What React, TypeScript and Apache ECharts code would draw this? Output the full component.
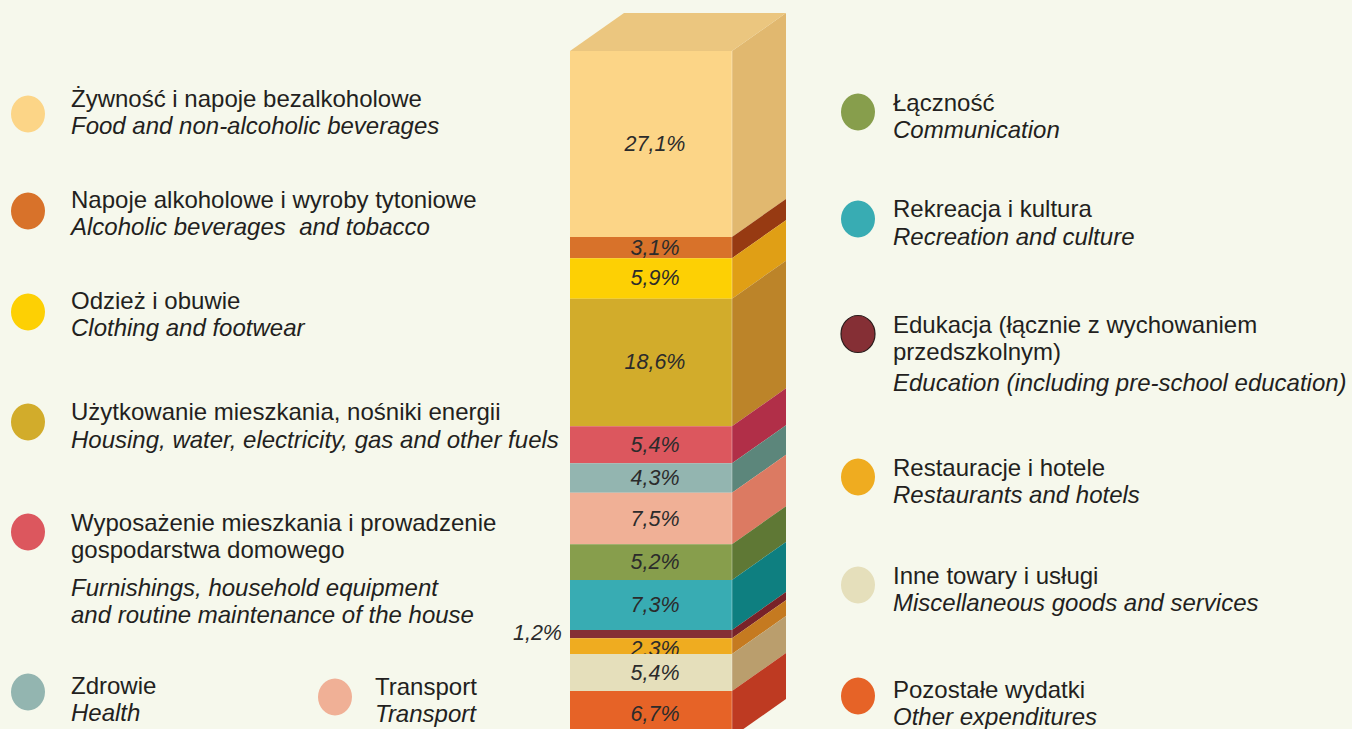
import React, { useEffect, useRef } from "react";
import * as echarts from "echarts";

// ---- Data ----
const categoriesPL: string[][] = [
  ["Żywność i napoje bezalkoholowe"],
  ["Napoje alkoholowe i wyroby tytoniowe"],
  ["Odzież i obuwie"],
  ["Użytkowanie mieszkania, nośniki energii"],
  ["Wyposażenie mieszkania i prowadzenie", "gospodarstwa domowego"],
  ["Zdrowie"],
  ["Transport"],
  ["Łączność"],
  ["Rekreacja i kultura"],
  ["Edukacja (łącznie z wychowaniem", "przedszkolnym)"],
  ["Restauracje i hotele"],
  ["Inne towary i usługi"],
  ["Pozostałe wydatki"],
];
const categoriesEN: string[][] = [
  ["Food and non-alcoholic beverages"],
  ["Alcoholic beverages  and tobacco"],
  ["Clothing and footwear"],
  ["Housing, water, electricity, gas and other fuels"],
  ["Furnishings, household equipment", "and routine maintenance of the house"],
  ["Health"],
  ["Transport"],
  ["Communication"],
  ["Recreation and culture"],
  ["Education (including pre-school education)"],
  ["Restaurants and hotels"],
  ["Miscellaneous goods and services"],
  ["Other expenditures"],
];
const values: number[] = [27.1, 3.1, 5.9, 18.6, 5.4, 4.3, 7.5, 5.2, 7.3, 1.2, 2.3, 5.4, 6.7];

// ---- Styles ----
const frontColors = [
  "#FCD587", "#D8722A", "#FDD004", "#D2AC2B", "#DC575E", "#93B5B0", "#F0B096",
  "#879E4C", "#38ACB3", "#852F35", "#EFAC20", "#E5DFBB", "#E66327",
];
const sideColors = [
  "#E1B86F", "#973A12", "#E09F15", "#BC8429", "#B12F48", "#5C867B", "#DC7A62",
  "#5F7835", "#0E7F80", "#782229", "#C57A20", "#BA9E6D", "#BE3A22",
];
const legendCircleColors = [
  "#FCD587", "#D8722A", "#FDD004", "#D2AC2B", "#DC575E", "#93B5B0", "#F0B096",
  "#879E4C", "#38ACB3", "#852F35", "#EFAC20", "#E5DFBB", "#E66327",
];
const TOP_COLOR = "#EBC67F";
const BG = "#F6F8EC";
const DX = 54;
const DY = -38;
const FONT = "Liberation Sans";
const TEXT_COLOR = "#231F20";

// legend layout (circle centre, text x, text line centres)
const legendLayout = [
  { cx: 28, cy: 114, tx: 71, ys: [98, 125] },
  { cx: 28, cy: 211, tx: 71, ys: [199, 226] },
  { cx: 28, cy: 312, tx: 71, ys: [300, 327] },
  { cx: 28, cy: 422, tx: 71, ys: [411, 439] },
  { cx: 28, cy: 532, tx: 71, ys: [522, 549, 587, 614] },
  { cx: 28, cy: 692, tx: 71, ys: [685, 712] },
  { cx: 335, cy: 697, tx: 375, ys: [686, 713] },
  { cx: 858, cy: 112, tx: 893, ys: [102, 129] },
  { cx: 858, cy: 219, tx: 893, ys: [208, 236] },
  { cx: 858, cy: 334, tx: 893, ys: [324, 351, 382] },
  { cx: 858, cy: 477, tx: 893, ys: [467, 494] },
  { cx: 858, cy: 585, tx: 893, ys: [575, 602] },
  { cx: 858, cy: 696, tx: 893, ys: [689, 716] },
];

function fmt(v: number) {
  return v.toFixed(1).replace(".", ",") + "%";
}

export default function App() {
  const ref = useRef<HTMLDivElement>(null);
  useEffect(() => {
    if (!ref.current) return;
    const chart = echarts.init(ref.current, undefined, { renderer: "svg" });

    let acc = 0;
    const segData = values.map((v, i) => {
      const s = acc;
      acc += v;
      return [s, acc, i, v];
    });

    const graphics: any[] = [];
    legendLayout.forEach((L, i) => {
      graphics.push({
        type: "ellipse",
        shape: { cx: L.cx, cy: L.cy, rx: 17, ry: 18.5 },
        style: {
          fill: legendCircleColors[i],
          stroke: i === 9 ? "#2a1a1a" : null,
          lineWidth: i === 9 ? 1.2 : 0,
        },
      });
      const lines: { t: string; it: boolean }[] = [
        ...categoriesPL[i].map((t) => ({ t, it: false })),
        ...categoriesEN[i].map((t) => ({ t, it: true })),
      ];
      lines.forEach((ln, k) => {
        graphics.push({
          type: "text",
          x: L.tx,
          y: L.ys[k],
          style: {
            text: ln.t,
            fill: TEXT_COLOR,
            fontFamily: FONT,
            fontSize: 24,
            fontStyle: ln.it ? "italic" : "normal",
            verticalAlign: "middle",
            align: "left",
          },
        });
      });
    });

    chart.setOption({
      animation: false,
      backgroundColor: BG,
      textStyle: { fontFamily: FONT },
      grid: { left: 570, width: 162, top: 51, height: 686 },
      xAxis: { type: "value", min: 0, max: 1, show: false },
      yAxis: { type: "value", min: 0, max: 100, inverse: true, show: false },
      graphic: graphics,
      series: [
        {
          type: "custom",
          clip: false,
          data: segData,
          renderItem: (params: any, api: any) => {
            const start = api.value(0);
            const end = api.value(1);
            const i = api.value(2);
            const v = api.value(3);
            const p0 = api.coord([0, start]);
            const p1 = api.coord([1, end]);
            const x0 = p0[0], y0 = p0[1], x1 = p1[0], y1 = p1[1];
            const children: any[] = [
              {
                type: "rect",
                shape: { x: x0, y: y0, width: x1 - x0, height: y1 - y0 },
                style: { fill: frontColors[i] },
              },
              {
                type: "polygon",
                shape: {
                  points: [
                    [x1, y0],
                    [x1 + DX, y0 + DY],
                    [x1 + DX, y1 + DY],
                    [x1, y1],
                  ],
                },
                style: { fill: sideColors[i] },
              },
              {
                type: "line",
                shape: { x1: x1, y1: y0, x2: x1, y2: y1 },
                style: { stroke: "rgba(255,255,255,0.35)", lineWidth: 1 },
              },
            ];
            if (i === 0) {
              children.push({
                type: "polygon",
                shape: {
                  points: [
                    [x0, y0],
                    [x1, y0],
                    [x1 + DX, y0 + DY],
                    [x0 + DX, y0 + DY],
                  ],
                },
                style: { fill: TOP_COLOR },
              });
            }
            const small = v < 2;
            children.push({
              type: "text",
              x: small ? x0 - 8 : (x0 + x1) / 2 + 4,
              y: small ? (y0 + y1) / 2 - 1 : (y0 + y1) / 2 + (v < 3 ? 3 : 0),
              style: {
                text: fmt(v),
                fill: "#2B2B2B",
                fontFamily: FONT,
                fontSize: 21.5,
                fontStyle: "italic",
                align: small ? "right" : "center",
                verticalAlign: "middle",
              },
            });
            return { type: "group", children };
          },
        },
      ],
    });
    return () => chart.dispose();
  }, []);
  return (
    <div
      ref={ref}
      style={{ position: "fixed", left: 0, top: 0, width: 1352, height: 760, background: BG }}
    />
  );
}
